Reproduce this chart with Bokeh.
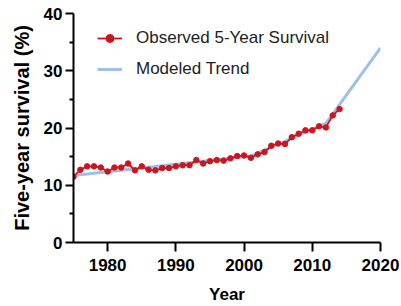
from bokeh.plotting import figure
from bokeh.models import Range1d, FixedTicker, Legend, LegendItem
from bokeh.embed import file_html
from bokeh.resources import INLINE

years = list(range(1975, 2015))
observed = [11.5, 12.7, 13.3, 13.3, 13.1, 12.4, 13.1, 13.1, 13.8, 12.6,
            13.3, 12.7, 12.6, 13.0, 13.0, 13.3, 13.5, 13.5, 14.4, 13.8,
            14.2, 14.4, 14.3, 14.7, 15.1, 15.2, 14.8, 15.4, 15.8, 16.9,
            17.3, 17.2, 18.4, 19.0, 19.6, 19.6, 20.3, 20.1, 22.2, 23.3]
trend_years = [1975, 2001, 2012, 2020]
trend_values = [11.7, 15.1, 20.8, 34.0]

x_ticks = [1980, 1990, 2000, 2010, 2020]
y_ticks = [0, 10, 20, 30, 40]
y_minor = [5, 15, 25, 35]

FONT = "Liberation Sans"

p = figure(width=400, height=306, output_backend="svg", toolbar_location=None,
           x_range=Range1d(1975, 2020), y_range=Range1d(0, 40),
           min_border_left=73, min_border_right=20, min_border_top=13, min_border_bottom=63)
p.outline_line_color = None
p.grid.visible = False
p.background_fill_color = "white"
p.border_fill_color = "white"

trend = p.line(trend_years, trend_values, line_color="#9dc0ea", line_width=3)
obs_line = p.line(years, observed, line_color="#d0141e", line_width=1.8)
obs_pts = p.scatter(years, observed, size=5.5, fill_color="#d0141e", line_color="#d0141e")

for ax in (p.xaxis[0], p.yaxis[0]):
    ax.axis_line_width = 2
    ax.axis_line_color = "black"
    ax.major_tick_line_width = 2
    ax.minor_tick_line_width = 2
    ax.major_tick_in = 0
    ax.minor_tick_in = 0
    ax.major_label_text_font = FONT
    ax.major_label_text_font_style = "bold"
    ax.major_label_text_font_size = "17px"
    ax.major_label_text_color = "black"
    ax.axis_label_text_font = FONT
    ax.axis_label_text_font_style = "bold"
    ax.axis_label_text_color = "black"

p.xaxis.ticker = FixedTicker(ticks=x_ticks)
p.xaxis.major_tick_out = 9
p.xaxis.minor_tick_out = 0
p.xaxis.major_label_standoff = 7
p.xaxis.axis_label = "Year"
p.xaxis.axis_label_text_font_size = "17px"
p.xaxis.axis_label_standoff = 11

p.yaxis.ticker = FixedTicker(ticks=y_ticks, minor_ticks=y_minor)
p.yaxis.major_tick_out = 8
p.yaxis.minor_tick_out = 4
p.yaxis.major_label_standoff = 3
p.yaxis.axis_label = "Five-year survival (%)"
p.yaxis.axis_label_text_font_size = "20px"
p.yaxis.axis_label_standoff = 8

legend = Legend(items=[
    LegendItem(label="Observed 5-Year Survival", renderers=[obs_line, obs_pts]),
    LegendItem(label="Modeled Trend", renderers=[trend]),
], location=(24, 163))
legend.padding = 0
legend.margin = 0
legend.spacing = 11
legend.glyph_width = 25
legend.glyph_height = 20
legend.label_height = 20
legend.label_standoff = 14
legend.label_text_font = FONT
legend.label_text_font_size = "17px"
legend.label_text_color = "#222222"
legend.border_line_alpha = 0
legend.background_fill_alpha = 0
p.add_layout(legend, "center")

open("out.html", "w").write(file_html(p, INLINE))
